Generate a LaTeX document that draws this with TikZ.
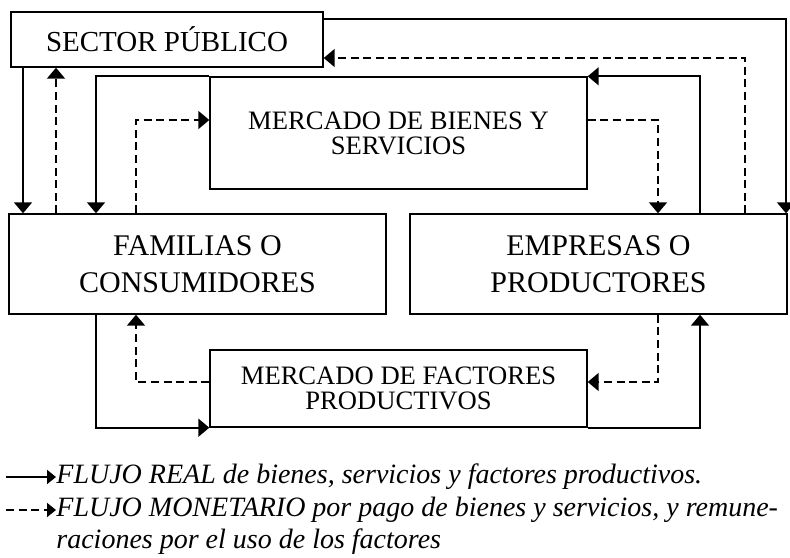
\documentclass[tikz,border=0pt]{standalone}
\usepackage{fontspec}
\setmainfont{Liberation Serif}
\usetikzlibrary{arrows.meta}

\tikzset{
  box/.style={draw, line width=0.7pt, inner sep=0pt, align=center},
  bigbox/.style={box, minimum width=188.5pt, minimum height=50pt, font=\fontsize{15}{18.5}\selectfont},
  mktbox/.style={box, minimum width=188.5pt, font=\fontsize{13.3}{12.5}\selectfont},
  real/.style={line width=0.9pt, -{Triangle[width=9pt,length=5.5pt]}},
  money/.style={real, dash pattern=on 4pt off 2.3pt},
  legend/.style={anchor=west, inner sep=0pt, font=\fontsize{14}{16}\selectfont\itshape},
  legtip/.style={-{Triangle[width=7pt,length=4.5pt]}}
}

\begin{document}
\begin{tikzpicture}[x=0.5pt,y=-0.5pt]
\useasboundingbox (0,0) rectangle (790,557);

\node [box, minimum width=156pt, minimum height=27.5pt, font=\fontsize{14.5}{17}\selectfont] (sp) at (167,39.5) {SECTOR PÚBLICO};
\node [mktbox, minimum height=56pt] (mbs) at (398.5,133) {MERCADO DE BIENES Y\\SERVICIOS};
\node [bigbox] (fam) at (197.5,264) {FAMILIAS O\\CONSUMIDORES};
\node [bigbox] (emp) at (598.5,264) {EMPRESAS O\\PRODUCTORES};
\node [mktbox, minimum height=38.5pt] (mfp) at (398.5,388.5) {MERCADO DE FACTORES\\PRODUCTIVOS};

% lanes
\coordinate (l1) at (23,0); \coordinate (l2) at (56,0);
\coordinate (l3) at (96,0); \coordinate (l4) at (136,0);
\coordinate (r1) at (658,0); \coordinate (r2) at (700,0);
\coordinate (r3) at (745,0); \coordinate (r4) at (786,0);
\coordinate (t1) at (0,19); \coordinate (t2) at (0,58);
\coordinate (t4) at (0,120); \coordinate (b1) at (0,382);

\draw [real] (sp.south -| l1) -- (fam.north -| l1);
\draw [money] (fam.north -| l2) -- (sp.south -| l2);
\draw [real] (mbs.north west) -| (fam.north -| l3);
\draw [money] (fam.north -| l4) |- (mbs.west |- t4);
\draw [money] (mbs.east |- t4) -| (emp.north -| r1);
\draw [real] (emp.north -| r2) |- (mbs.north east);
\draw [money] (emp.north -| r3) |- (sp.east |- t2);
\draw [real] (sp.east |- t1) -| (emp.north -| r4);

\draw [real] (fam.south -| l3) |- (mfp.south west);
\draw [money] (mfp.west |- b1) -| (fam.south -| l4);
\draw [money] (emp.south -| r1) |- (mfp.east |- b1);
\draw [real] (mfp.south east) -| (emp.south -| r2);

% legend
\node [legend] (lreal) at (56,477) {FLUJO REAL de bienes, servicios y factores productivos.};
\node [legend] (lmoney) at (56,510) {FLUJO MONETARIO por pago de bienes y servicios, y remune-};
\node [legend] (lmoney2) at (56,542) {raciones por el uso de los factores};
\draw [real, legtip] ([xshift=-25pt]lreal.west) -- (lreal.west);
\draw [money, legtip] ([xshift=-25pt]lmoney.west) -- (lmoney.west);
\end{tikzpicture}
\end{document}
